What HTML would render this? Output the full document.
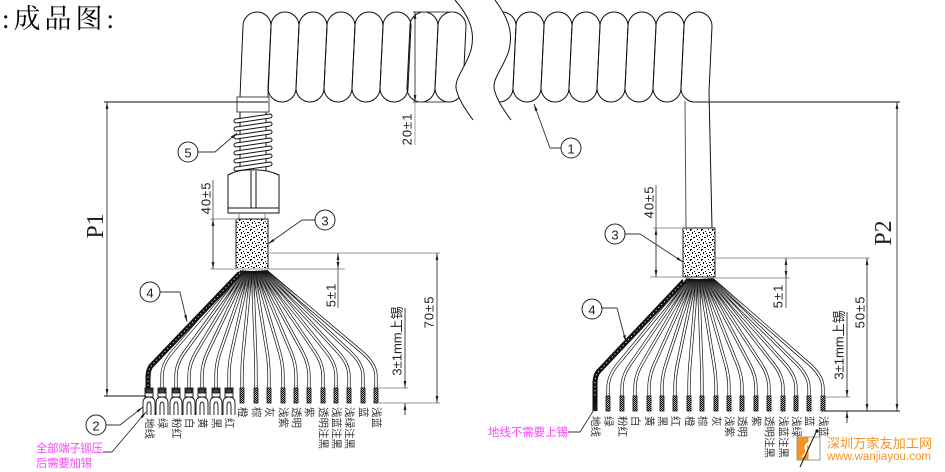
<!DOCTYPE html>
<html><head><meta charset="utf-8"><style>
html,body{margin:0;padding:0;background:#fff;}
svg{display:block;}
text{font-family:"Liberation Sans","Noto Sans CJK SC",sans-serif;}
</style></head><body>
<svg width="945" height="472" viewBox="0 0 945 472" xmlns="http://www.w3.org/2000/svg">
<defs>
<marker id="a" viewBox="0 0 10 4" refX="10" refY="2" markerWidth="7" markerHeight="2.8" orient="auto-start-reverse" markerUnits="userSpaceOnUse"><path d="M0 0 L10 2 L0 4 Z" fill="#222"/></marker>
<pattern id="st" width="11" height="10" patternUnits="userSpaceOnUse">
<rect width="11" height="10" fill="#fff"/>
<g fill="#000"><rect x="1" y="1" width="1" height="1"/><rect x="5" y="2" width="2" height="1"/><rect x="8" y="0" width="1" height="1"/><rect x="3" y="5" width="1" height="2"/><rect x="9" y="6" width="1" height="1"/><rect x="0" y="7" width="2" height="1"/><rect x="6" y="7" width="1" height="1"/><rect x="4" y="9" width="1" height="1"/><rect x="7" y="4" width="1" height="1"/><rect x="2" y="3" width="1" height="1"/><rect x="10" y="2" width="1" height="2"/><rect x="8" y="9" width="2" height="1"/><rect x="5" y="5" width="1" height="1"/></g>
</pattern>
<pattern id="h" width="2" height="2" patternUnits="userSpaceOnUse"><rect width="2" height="2" fill="#bbb"/><rect width="1" height="1" fill="#000"/><rect x="1" y="1" width="1" height="1" fill="#000"/></pattern>
<clipPath id="cL"><path d="M0 0 L455 0 C468 15 476 30 471 50 C466 68 452 80 457 92 C460 102 466 110 473 120 L0 120 Z"/></clipPath>
<clipPath id="cR"><path d="M495 0 C506 15 514 30 509 50 C504 68 490 80 495 92 C498 102 504 110 511 120 L945 120 L945 0 Z"/></clipPath>
<linearGradient id="gL" x1="0" y1="272" x2="0" y2="300" gradientUnits="userSpaceOnUse"><stop offset="0" stop-color="#000"/><stop offset="1" stop-color="#fff"/></linearGradient>
<linearGradient id="gR" x1="0" y1="280" x2="0" y2="308" gradientUnits="userSpaceOnUse"><stop offset="0" stop-color="#000"/><stop offset="1" stop-color="#fff"/></linearGradient>
<mask id="mk" maskUnits="userSpaceOnUse" x="0" y="0" width="945" height="472"><rect x="0" y="0" width="470" height="472" fill="url(#gL)"/><rect x="470" y="0" width="475" height="472" fill="url(#gR)"/></mask>
<g id="wl">
<path d="M242 271 L172.3 352 Q162 364 162 376 L162 388"/>
<path d="M243.5 271 L184.7 352 Q176 364 176 376 L176 388"/>
<path d="M245 271 L196.2 352 Q189 364 189 376 L189 388"/>
<path d="M246.5 271 L207.7 352 Q202 364 202 376 L202 388"/>
<path d="M248 271 L220.1 352 Q216 364 216 376 L216 388"/>
<path d="M249.5 271 L231.6 352 Q229 364 229 376 L229 388"/>
<path d="M251 271 L243.2 352 Q242 364 242 376 L242 388"/>
<path d="M252.5 271 L255.5 352 Q256 364 256 376 L256 388"/>
<path d="M254 271 L267.1 352 Q269 364 269 376 L269 388"/>
<path d="M255.5 271 L279.5 352 Q283 364 283 376 L283 388"/>
<path d="M257 271 L291 352 Q296 364 296 376 L296 388"/>
<path d="M258.5 271 L302.5 352 Q309 364 309 376 L309 388"/>
<path d="M260 271 L314.9 352 Q323 364 323 376 L323 388"/>
<path d="M261.5 271 L326.4 352 Q336 364 336 376 L336 388"/>
<path d="M263 271 L337.9 352 Q349 364 349 376 L349 388"/>
<path d="M264.5 271 L350.3 352 Q363 364 363 376 L363 388"/>
<path d="M266 271 L361.8 352 Q376 364 376 376 L376 388"/>
</g>
<g id="wr">
<path d="M688 279 L617.9 364 Q608 376 608 388 L608 396"/>
<path d="M689.5 279 L630.4 364 Q622 376 622 388 L622 396"/>
<path d="M691 279 L641.9 364 Q635 376 635 388 L635 396"/>
<path d="M692.5 279 L654.4 364 Q649 376 649 388 L649 396"/>
<path d="M694 279 L666 364 Q662 376 662 388 L662 396"/>
<path d="M695.5 279 L677.5 364 Q675 376 675 388 L675 396"/>
<path d="M697 279 L690 364 Q689 376 689 388 L689 396"/>
<path d="M698.5 279 L701.6 364 Q702 376 702 388 L702 396"/>
<path d="M700 279 L714 364 Q716 376 716 388 L716 396"/>
<path d="M701.5 279 L725.6 364 Q729 376 729 388 L729 396"/>
<path d="M703 279 L737.2 364 Q742 376 742 388 L742 396"/>
<path d="M704.5 279 L749.6 364 Q756 376 756 388 L756 396"/>
<path d="M706 279 L761.2 364 Q769 376 769 388 L769 396"/>
<path d="M707.5 279 L773.6 364 Q783 376 783 388 L783 396"/>
<path d="M709 279 L785.2 364 Q796 376 796 388 L796 396"/>
<path d="M710.5 279 L796.8 364 Q809 376 809 388 L809 396"/>
<path d="M712 279 L809.2 364 Q823 376 823 388 L823 396"/>
</g>
<path id="lp" d="M3 14 A14 14 0 0 1 31 14 L28 76 A14 14 0 0 1 0 76 Z"/>
</defs>

<!-- Title -->
<text x="2" y="28" font-size="27" letter-spacing="4" fill="#000" style="font-family:'Liberation Serif','Noto Serif CJK SC',serif">:成品图:</text>

<!-- Coils -->
<g fill="none" stroke="#111" stroke-width="1">
<path d="M240 97 L243 26 A14 14 0 0 1 271 26 L268 97"/>
<g clip-path="url(#cL)">
<use href="#lp" x="268" y="12"/><use href="#lp" x="296" y="12"/><use href="#lp" x="324" y="12"/><use href="#lp" x="352" y="12"/><use href="#lp" x="380" y="12"/><use href="#lp" x="407" y="12"/><use href="#lp" x="435" y="12"/>
</g>
<g clip-path="url(#cR)">
<use href="#lp" x="485" y="12"/><use href="#lp" x="513" y="12"/><use href="#lp" x="541" y="12"/><use href="#lp" x="569" y="12"/><use href="#lp" x="597" y="12"/><use href="#lp" x="625" y="12"/><use href="#lp" x="653" y="12"/>
</g>
<path d="M681 88 L684 26 A14 14 0 0 1 712 26 L709 92 L712 228"/>
<path d="M681 88 A14 14 0 0 0 693 102"/>
<path d="M685 101 L686 228" stroke="#555"/>
<path d="M455 0 C468 15 476 30 471 50 C466 68 452 80 457 92 C460 102 466 110 473 120"/>
<path d="M495 0 C506 15 514 30 509 50 C504 68 490 80 495 92 C498 102 504 110 511 120"/>
</g>

<!-- Left connector -->
<g stroke="#111" stroke-width="1">
<line x1="240" y1="110" x2="240" y2="172"/>
<line x1="266" y1="110" x2="266" y2="172"/>
<rect x="237" y="97" width="32" height="15" fill="#fff" stroke="#444"/>
<g fill="#fff">
<path d="M236 119 L270 114 A2 2 0 0 1 270 118 L236 123 A2 2 0 0 1 236 119 Z"/>
<path d="M236 127 L270 122 A2 2 0 0 1 270 126 L236 131 A2 2 0 0 1 236 127 Z"/>
<path d="M236 135 L270 130 A2 2 0 0 1 270 134 L236 139 A2 2 0 0 1 236 135 Z"/>
<path d="M236 143 L270 138 A2 2 0 0 1 270 142 L236 147 A2 2 0 0 1 236 143 Z"/>
<path d="M236 151 L270 146 A2 2 0 0 1 270 150 L236 155 A2 2 0 0 1 236 151 Z"/>
<path d="M236 159 L270 154 A2 2 0 0 1 270 158 L236 163 A2 2 0 0 1 236 159 Z"/>
<path d="M236 167 L270 162 A2 2 0 0 1 270 166 L236 171 A2 2 0 0 1 236 167 Z"/>
</g>
<path d="M228 213 L228 175 Q239 169 252 170 Q266 169 279 175 L279 213 Z" fill="#fff"/>
<line x1="251" y1="171" x2="251" y2="208"/>
<line x1="256" y1="171" x2="256" y2="208"/>
<line x1="228" y1="208" x2="279" y2="208"/>
<line x1="239" y1="213" x2="239" y2="219" stroke="#888"/>
<line x1="265" y1="213" x2="265" y2="219" stroke="#888"/>
<rect x="236" y="219" width="32" height="50" fill="url(#st)" stroke="#222"/>
<rect x="683" y="228" width="32" height="49" fill="url(#st)" stroke="#222"/>
</g>

<!-- Wires -->
<g fill="none" stroke-linecap="butt">
<use href="#wl" stroke="#111" stroke-width="3.2"/>
<use href="#wr" stroke="#111" stroke-width="3.2"/>
<g mask="url(#mk)">
<use href="#wl" stroke="#fff" stroke-width="1.8"/>
<use href="#wr" stroke="#fff" stroke-width="1.8"/>
</g>
<path d="M240 273 L151 366 Q148 370 148 378 L148 390" stroke="#111" stroke-width="5"/>
<path d="M240 273 L151 366 Q148 370 148 378 L148 390" stroke="#fff" stroke-width="1" stroke-dasharray="1 3"/>
<path d="M684 281 L598 372 Q595 376 595 384 L595 411" stroke="#111" stroke-width="5"/>
<path d="M684 281 L598 372 Q595 376 595 384 L595 396" stroke="#fff" stroke-width="1" stroke-dasharray="1 3"/>
</g>

<!-- Tinned ends -->
<g fill="url(#h)" stroke="#111" stroke-width="0.8">
<rect x="240" y="388" width="4" height="15"/><rect x="254" y="388" width="4" height="15"/><rect x="267" y="388" width="4" height="15"/><rect x="281" y="388" width="4" height="15"/><rect x="294" y="388" width="4" height="15"/><rect x="307" y="388" width="4" height="15"/><rect x="321" y="388" width="4" height="15"/><rect x="334" y="388" width="4" height="15"/><rect x="347" y="388" width="4" height="15"/><rect x="361" y="388" width="4" height="15"/><rect x="374" y="388" width="4" height="15"/>
<rect x="606" y="396" width="4" height="15"/><rect x="620" y="396" width="4" height="15"/><rect x="633" y="396" width="4" height="15"/><rect x="647" y="396" width="4" height="15"/><rect x="660" y="396" width="4" height="15"/><rect x="673" y="396" width="4" height="15"/><rect x="687" y="396" width="4" height="15"/><rect x="700" y="396" width="4" height="15"/><rect x="714" y="396" width="4" height="15"/><rect x="727" y="396" width="4" height="15"/><rect x="740" y="396" width="4" height="15"/><rect x="754" y="396" width="4" height="15"/><rect x="767" y="396" width="4" height="15"/><rect x="781" y="396" width="4" height="15"/><rect x="794" y="396" width="4" height="15"/><rect x="807" y="396" width="4" height="15"/><rect x="821" y="396" width="4" height="15"/>
</g>

<!-- Terminals -->
<g stroke="#111" stroke-width="0.9">
<g transform="translate(149 0)"><rect x="-4" y="388" width="8" height="9" fill="#fff"/><rect x="-3" y="389" width="6" height="4" fill="#444"/><path d="M-6 415 L-6 403 Q-6 397 0 397 Q6 397 6 403 L6 415 M-2 415 L-2 406 Q-2 402 0 402 Q2 402 2 406 L2 415" fill="none"/></g>
<g transform="translate(162 0)"><rect x="-4" y="388" width="8" height="9" fill="#fff"/><rect x="-3" y="389" width="6" height="4" fill="#444"/><path d="M-6 415 L-6 403 Q-6 397 0 397 Q6 397 6 403 L6 415 M-2 415 L-2 406 Q-2 402 0 402 Q2 402 2 406 L2 415" fill="none"/></g>
<g transform="translate(176 0)"><rect x="-4" y="388" width="8" height="9" fill="#fff"/><rect x="-3" y="389" width="6" height="4" fill="#444"/><path d="M-6 415 L-6 403 Q-6 397 0 397 Q6 397 6 403 L6 415 M-2 415 L-2 406 Q-2 402 0 402 Q2 402 2 406 L2 415" fill="none"/></g>
<g transform="translate(189 0)"><rect x="-4" y="388" width="8" height="9" fill="#fff"/><rect x="-3" y="389" width="6" height="4" fill="#444"/><path d="M-6 415 L-6 403 Q-6 397 0 397 Q6 397 6 403 L6 415 M-2 415 L-2 406 Q-2 402 0 402 Q2 402 2 406 L2 415" fill="none"/></g>
<g transform="translate(202 0)"><rect x="-4" y="388" width="8" height="9" fill="#fff"/><rect x="-3" y="389" width="6" height="4" fill="#444"/><path d="M-6 415 L-6 403 Q-6 397 0 397 Q6 397 6 403 L6 415 M-2 415 L-2 406 Q-2 402 0 402 Q2 402 2 406 L2 415" fill="none"/></g>
<g transform="translate(216 0)"><rect x="-4" y="388" width="8" height="9" fill="#fff"/><rect x="-3" y="389" width="6" height="4" fill="#444"/><path d="M-6 415 L-6 403 Q-6 397 0 397 Q6 397 6 403 L6 415 M-2 415 L-2 406 Q-2 402 0 402 Q2 402 2 406 L2 415" fill="none"/></g>
<g transform="translate(229 0)"><rect x="-4" y="388" width="8" height="9" fill="#fff"/><rect x="-3" y="389" width="6" height="4" fill="#444"/><path d="M-6 415 L-6 403 Q-6 397 0 397 Q6 397 6 403 L6 415 M-2 415 L-2 406 Q-2 402 0 402 Q2 402 2 406 L2 415" fill="none"/></g>
</g>

<!-- Dimension & extension lines -->
<g stroke="#999" stroke-width="0.9">
<line x1="413" y1="12" x2="455" y2="12" stroke="#444"/>
<line x1="413" y1="102" x2="447" y2="102" stroke="#444"/>
<line x1="415" y1="102" x2="415" y2="145"/>
<line x1="210" y1="219" x2="237" y2="219"/>
<line x1="210" y1="269" x2="345" y2="269"/>
<line x1="268" y1="253" x2="440" y2="253"/>
<line x1="213" y1="180" x2="213" y2="219" stroke="#555"/>
<line x1="338" y1="269" x2="338" y2="308" stroke="#555"/>
<line x1="378" y1="388" x2="408" y2="388"/>
<line x1="378" y1="403" x2="440" y2="403"/>
<line x1="653" y1="228" x2="683" y2="228"/>
<line x1="650" y1="277" x2="683" y2="277"/>
<line x1="715" y1="258" x2="870" y2="258"/>
<line x1="715" y1="278" x2="790" y2="278"/>
<line x1="656" y1="185" x2="656" y2="228" stroke="#555"/>
<line x1="786" y1="278" x2="786" y2="308" stroke="#555"/>
<line x1="825" y1="397" x2="850" y2="397"/>
</g>
<g stroke="#111" stroke-width="1">
<line x1="104" y1="102" x2="268" y2="102"/>
<line x1="104" y1="396" x2="146" y2="396"/>
<line x1="692" y1="102" x2="900" y2="102"/>
<line x1="825" y1="411" x2="900" y2="411"/>
</g>
<g stroke="#333" stroke-width="0.9" fill="none">
<line x1="107" y1="102" x2="107" y2="396" marker-start="url(#a)" marker-end="url(#a)"/>
<line x1="897" y1="102" x2="897" y2="411" marker-start="url(#a)" marker-end="url(#a)"/>
<line x1="415" y1="12" x2="415" y2="102" marker-start="url(#a)" marker-end="url(#a)"/>
<line x1="213" y1="219" x2="213" y2="269" marker-start="url(#a)" marker-end="url(#a)"/>
<line x1="338" y1="253" x2="338" y2="269" marker-start="url(#a)" marker-end="url(#a)"/>
<line x1="437" y1="253" x2="437" y2="403" marker-start="url(#a)" marker-end="url(#a)"/>
<line x1="405" y1="308" x2="405" y2="388" marker-end="url(#a)"/>
<line x1="405" y1="415" x2="405" y2="403" marker-end="url(#a)"/>
<line x1="656" y1="228" x2="656" y2="277" marker-start="url(#a)" marker-end="url(#a)"/>
<line x1="786" y1="258" x2="786" y2="278" marker-start="url(#a)" marker-end="url(#a)"/>
<line x1="867" y1="258" x2="867" y2="411" marker-start="url(#a)" marker-end="url(#a)"/>
<line x1="847" y1="312" x2="847" y2="397" marker-end="url(#a)"/>
<line x1="847" y1="423" x2="847" y2="411" marker-end="url(#a)"/>
</g>

<!-- Dimension text -->
<g fill="#222" font-size="13" text-anchor="middle" dominant-baseline="central">
<text transform="translate(96 226) rotate(-90)" font-size="24" style="font-family:'Liberation Serif',serif">P1</text>
<text transform="translate(884 233) rotate(-90)" font-size="24" style="font-family:'Liberation Serif',serif">P2</text>
<text transform="translate(407 129) rotate(-90)" letter-spacing="1">20±1</text>
<text transform="translate(206 198) rotate(-90)" letter-spacing="1">40±5</text>
<text transform="translate(331 295) rotate(-90)" letter-spacing="1">5±1</text>
<text transform="translate(429 312) rotate(-90)" letter-spacing="1">70±5</text>
<text transform="translate(397 341) rotate(-90)">3±1mm上锡</text>
<text transform="translate(649 202) rotate(-90)" letter-spacing="1">40±5</text>
<text transform="translate(778 296) rotate(-90)" letter-spacing="1">5±1</text>
<text transform="translate(860 312) rotate(-90)" letter-spacing="1">50±5</text>
<text transform="translate(839 345) rotate(-90)">3±1mm上锡</text>
</g>

<!-- Leaders -->
<g fill="none" stroke="#333" stroke-width="0.9">
<polyline points="561,148 550,148 534,104" marker-end="url(#a)"/>
<polyline points="198,152 215,152 237,133" marker-end="url(#a)"/>
<polyline points="315,220 302,220 268,244" marker-end="url(#a)"/>
<polyline points="160,292 180,292 187,322" marker-end="url(#a)"/>
<polyline points="106,425 120,425 143,407" marker-end="url(#a)"/>
<polyline points="103,452 112,452 146,412" marker-end="url(#a)"/>
<polyline points="625,234 640,234 683,262" marker-end="url(#a)"/>
<polyline points="602,308 617,308 626,342" marker-end="url(#a)"/>
<polyline points="568,432 580,432 597,405" marker-end="url(#a)"/>
</g>
<g stroke="#222" stroke-width="1" fill="#fff">
<circle cx="571" cy="148" r="10"/><circle cx="188" cy="152" r="10"/><circle cx="325" cy="220" r="10"/><circle cx="150" cy="292" r="10"/><circle cx="96" cy="425" r="10"/><circle cx="615" cy="234" r="10"/><circle cx="592" cy="309" r="10"/>
</g>
<g fill="#222" font-size="13" text-anchor="middle" dominant-baseline="central">
<text x="571" y="149">1</text><text x="188" y="153">5</text><text x="325" y="221">3</text><text x="150" y="293">4</text><text x="96" y="426">2</text><text x="615" y="235">3</text><text x="592" y="310">4</text>
</g>

<!-- Wire labels -->
<g fill="#333" font-size="10.5" dominant-baseline="central">
<text transform="translate(149 418) rotate(90)">地线</text>
<text transform="translate(162 418) rotate(90)">绿</text>
<text transform="translate(176 418) rotate(90)">粉红</text>
<text transform="translate(189 418) rotate(90)">白</text>
<text transform="translate(202 418) rotate(90)">黄</text>
<text transform="translate(216 418) rotate(90)">黑</text>
<text transform="translate(229 418) rotate(90)">红</text>
<text transform="translate(242 407) rotate(90)">橙</text>
<text transform="translate(256 407) rotate(90)">棕</text>
<text transform="translate(269 407) rotate(90)">灰</text>
<text transform="translate(283 407) rotate(90)">浅紫</text>
<text transform="translate(296 407) rotate(90)">透明</text>
<text transform="translate(309 407) rotate(90)">紫</text>
<text transform="translate(323 407) rotate(90)">透明注黑</text>
<text transform="translate(336 407) rotate(90)">浅蓝注黑</text>
<text transform="translate(349 407) rotate(90)">浅绿注黑</text>
<text transform="translate(363 407) rotate(90)">蓝</text>
<text transform="translate(376 407) rotate(90)">浅蓝</text>
<text transform="translate(595 416) rotate(90)">地线</text>
<text transform="translate(608 416) rotate(90)">绿</text>
<text transform="translate(622 416) rotate(90)">粉红</text>
<text transform="translate(635 416) rotate(90)">白</text>
<text transform="translate(649 416) rotate(90)">黄</text>
<text transform="translate(662 416) rotate(90)">黑</text>
<text transform="translate(675 416) rotate(90)">红</text>
<text transform="translate(689 416) rotate(90)">橙</text>
<text transform="translate(702 416) rotate(90)">棕</text>
<text transform="translate(716 416) rotate(90)">灰</text>
<text transform="translate(729 416) rotate(90)">浅紫</text>
<text transform="translate(742 416) rotate(90)">透明</text>
<text transform="translate(756 416) rotate(90)">紫</text>
<text transform="translate(769 416) rotate(90)">透明注黑</text>
<text transform="translate(783 416) rotate(90)">浅蓝注黑</text>
<text transform="translate(796 416) rotate(90)">浅绿</text>
<text transform="translate(809 416) rotate(90)">蓝</text>
<text transform="translate(823 416) rotate(90)">浅蓝</text>
</g>

<!-- Pink notes -->
<g fill="#ff44ff" font-size="11.5">
<text x="36" y="452" textLength="67">全部端子铆压</text>
<text x="36" y="467" textLength="56">后需要加锡</text>
<text x="488" y="436" textLength="80">地线不需要上锡</text>
</g>

<!-- Logo -->
<g>
<rect x="797" y="437" width="23" height="23" fill="#fff" stroke="#999" stroke-width="1"/>
<rect x="797.5" y="437.5" width="11" height="22" fill="#f7931e"/>
<path d="M813 441 Q804 444 806 449 Q808 453 802 457" fill="none" stroke="#fff" stroke-width="2.2"/>
<path d="M817 430 L800 467" stroke="#111" stroke-width="1"/>
<circle cx="817" cy="431" r="1.6" fill="#111"/>
<text x="827" y="448" font-size="13" fill="#f7931e" textLength="105">深圳万家友加工网</text>
<text x="827" y="460" font-size="11.5" fill="#f7931e" textLength="104">www.wanjiayou.com</text>
</g>
</svg>
</body></html>
